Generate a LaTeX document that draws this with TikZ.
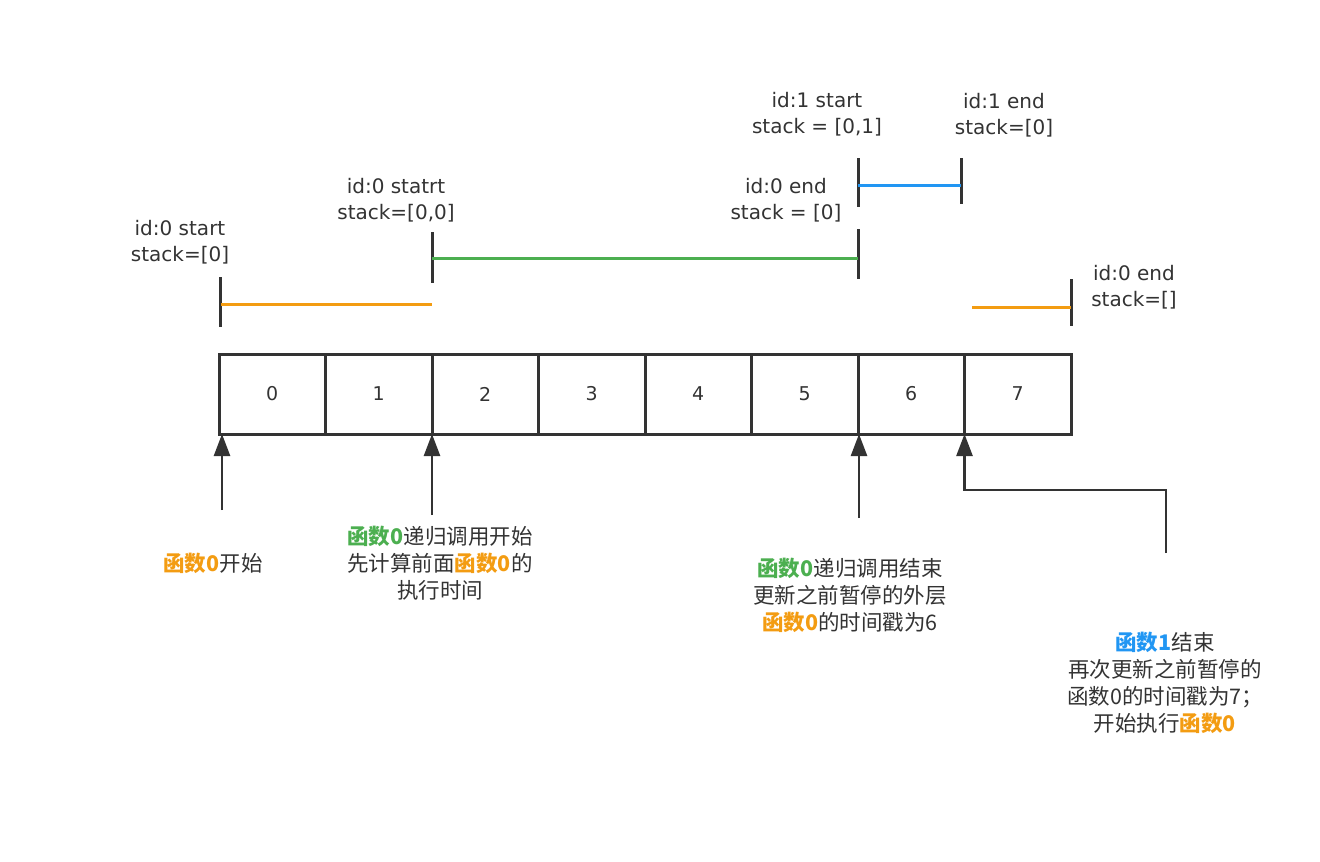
\documentclass[tikz,border=0pt]{standalone}
\usepackage{fontspec}
\setmainfont{DejaVu Sans}
\newfontfamily\cjk{Noto Sans CJK SC}
\usetikzlibrary{arrows.meta,positioning}

\definecolor{inkc}{HTML}{333333}
\definecolor{org}{HTML}{F39C12}
\definecolor{grn}{HTML}{4CAF50}
\definecolor{blu}{HTML}{2196F3}

\newcommand{\fzero}{\textcolor{org}{\textbf{函数0}}}
\newcommand{\gzero}{\textcolor{grn}{\textbf{函数0}}}
\newcommand{\bone}{\textcolor{blu}{\textbf{函数1}}}

\begin{document}
\begin{tikzpicture}[x=1pt,y=-1pt,>={Triangle[length=22pt,width=16pt]},
  every node/.style={text=inkc},
  cell/.style={draw=inkc,line width=3pt,minimum width=106.5pt,minimum height=80pt,inner sep=0pt,outer sep=0pt,font=\fontsize{19}{20}\selectfont},
  lbl/.style={align=center,font=\fontsize{20}{26.5}\selectfont},
  note/.style={align=center,font=\cjk\fontsize{21.5}{27}\selectfont},
  tick/.style={draw=inkc,line width=3pt},
  bar/.style={line width=3pt},
  up/.style={->,draw=inkc,line width=2.5pt}]
\useasboundingbox (0,0) rectangle (1320,862);

% array cells
\foreach \i in {0,...,7}
  \node[cell] (c\i) at ({272.25+106.5*\i},394) {\i};

% time ticks and runs
\draw[tick] (220,277) -- (220,327);
\draw[tick] (432,232) -- (432,283);
\draw[tick] (858,229) -- (858,279);
\draw[tick] (858,158) -- (858,207);
\draw[tick] (961,158) -- (961,204);
\draw[tick] (1071,279) -- (1071,326);
\draw[bar,org] (221,304) -- (432,304);
\draw[bar,grn] (432,258) -- (858,258);
\draw[bar,blu] (858,185) -- (961,185);
\draw[bar,org] (972,307) -- (1071,307);

% labels above
\node[lbl] (s0) at (180,242) {id:0 start\\stack=[0]};
\node[lbl] (s1) at (396,200) {id:0 statrt\\stack=[0,0]};
\node[lbl] (e1) at (786,200) {id:0 end\\stack = [0]};
\node[lbl] (s2) at (817,114) {id:1 start\\stack = [0,1]};
\node[lbl] (e2) at (1004,115) {id:1 end\\stack=[0]};
\node[lbl] (e0) at (1134,287) {id:0 end\\stack=[]};

% arrows
\coordinate (a0) at (222,510);
\coordinate (a1) at (432,515);
\coordinate (a2) at (859,518);
\coordinate (a3) at (1166,553);
\draw[up] (a0) -- (a0 |- c0.south);
\draw[up] (a1) -- (a1 |- c2.south);
\draw[up] (a2) -- (a2 |- c6.south);
\draw[up] (a3) -- ++(0,-63) -| (c7.south west);

% notes
\node[note] (n0) at (213,563) {\fzero 开始};
\node[note] (n1) at (440,563) {\gzero 递归调用开始\\先计算前面\fzero 的\\执行时间};
\node[note] (n2) at (850,595) {\gzero 递归调用结束\\更新之前暂停的外层\\\fzero 的时间戳为6};
\node[note] (n3) at (1165,683) {\bone 结束\\再次更新之前暂停的\\函数0的时间戳为7；\\开始执行\fzero};
\end{tikzpicture}
\end{document}
